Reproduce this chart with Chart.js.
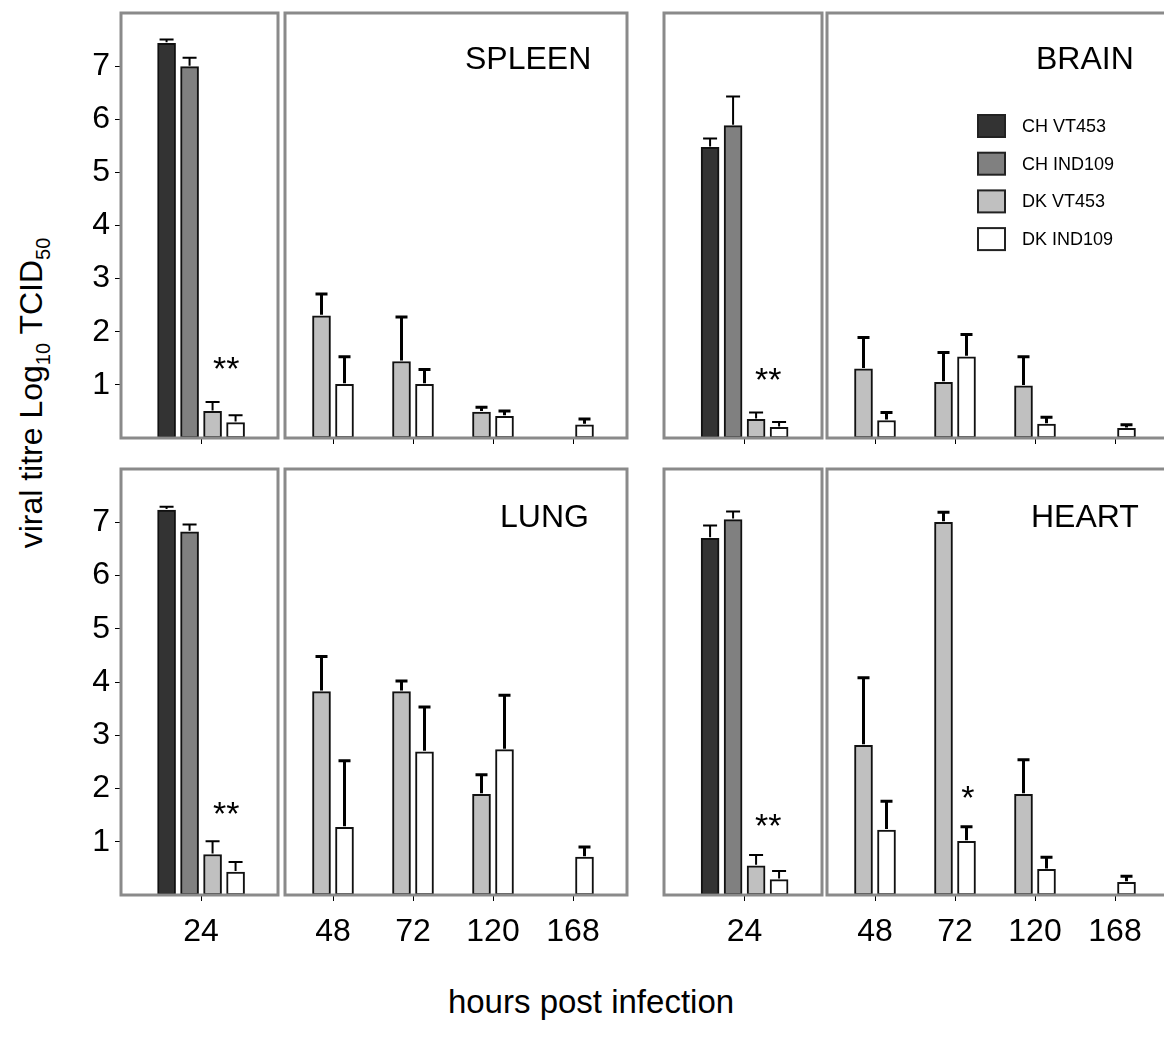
<!DOCTYPE html>
<html>
<head>
<meta charset="utf-8">
<script src="https://cdn.jsdelivr.net/npm/chart.js@4.4.0/dist/chart.umd.min.js"></script>
<style>
html,body{margin:0;padding:0;background:#fff;overflow:hidden;width:1164px;height:1044px;}
body{position:relative;font-family:"Liberation Sans",Arial,sans-serif;color:#000;}
canvas{position:absolute;}
#ytitle{position:absolute;left:33px;top:393px;transform:translate(-50%,-50%) rotate(-90deg);font-size:32px;line-height:32px;white-space:nowrap;}
#ytitle .sub{font-size:20px;position:relative;top:8px;}
#xtitle{position:absolute;left:591px;top:985px;transform:translateX(-50%);font-size:33px;line-height:33px;white-space:nowrap;}
</style>
</head>
<body>
<div id="ytitle">viral titre Log<span class="sub">10</span> TCID<span class="sub">50</span></div>
<div id="xtitle">hours post infection</div>
<script>
// ---------- data ----------
const seriesNames = ['CH VT453', 'CH IND109', 'DK VT453', 'DK IND109'];
const seriesColors = ['#333333', '#808080', '#c0c0c0', '#ffffff'];
const earlyHours = ['24'];
const lateHours = ['48', '72', '120', '168'];
const yTickValues = [1, 2, 3, 4, 5, 6, 7];
const panelTitles = ['SPLEEN', 'BRAIN', 'LUNG', 'HEART'];

// 24 h: [CH VT453, CH IND109, DK VT453, DK IND109]
const spleenEarly = [7.43, 6.99, 0.50, 0.29];
const spleenEarlyErr = [0.07, 0.17, 0.18, 0.14];
const brainEarly = [5.47, 5.88, 0.35, 0.20];
const brainEarlyErr = [0.17, 0.55, 0.13, 0.10];
const lungEarly = [7.23, 6.82, 0.76, 0.43];
const lungEarlyErr = [0.06, 0.14, 0.25, 0.19];
const heartEarly = [6.70, 7.05, 0.55, 0.29];
const heartEarlyErr = [0.24, 0.15, 0.20, 0.16];

// 48-168 h: DK VT453 and DK IND109
const spleenLateVT = [2.30, 1.44, 0.49, null];
const spleenLateVTErr = [0.41, 0.84, 0.09, null];
const spleenLateIND = [1.01, 1.01, 0.41, 0.25];
const spleenLateINDErr = [0.52, 0.28, 0.10, 0.11];

const brainLateVT = [1.30, 1.05, 0.98, null];
const brainLateVTErr = [0.59, 0.56, 0.55, null];
const brainLateIND = [0.33, 1.53, 0.26, 0.18];
const brainLateINDErr = [0.15, 0.42, 0.13, 0.07];

const lungLateVT = [3.82, 3.82, 1.89, null];
const lungLateVTErr = [0.66, 0.20, 0.37, null];
const lungLateIND = [1.27, 2.69, 2.73, 0.71];
const lungLateINDErr = [1.25, 0.84, 1.02, 0.19];

const heartLateVT = [2.81, 7.00, 1.89, null];
const heartLateVTErr = [1.27, 0.19, 0.65, null];
const heartLateIND = [1.22, 1.01, 0.48, 0.24];
const heartLateINDErr = [0.54, 0.27, 0.23, 0.11];

// significance marks (data units: x index, y value)
const spleenMarks = [{x: 0.32, y: 1.47, text: '**'}];
const brainMarks = [{x: 0.30, y: 1.25, text: '**'}];
const lungMarks = [{x: 0.32, y: 1.68, text: '**'}];
const heartMarks = [{x: 0.30, y: 1.46, text: '**'}];
const heartLateMarks = [{x: 1.16, y: 1.98, text: '*'}];

// ---------- rendering ----------
const FONT = "'Liberation Sans', Arial, sans-serif";
Chart.defaults.font.family = FONT;
Chart.defaults.color = '#000';

const framePlugin = {
  id: 'frame',
  afterDatasetsDraw(chart) {
    const a = chart.chartArea, ctx = chart.ctx;
    ctx.save();
    ctx.strokeStyle = '#8a8a8a';
    ctx.lineWidth = 3;
    ctx.strokeRect(a.left, a.top, a.right - a.left, a.bottom - a.top);
    ctx.restore();
  }
};

const errorBarPlugin = {
  id: 'errorBars',
  afterDatasetsDraw(chart, args, opts) {
    const ctx = chart.ctx, ys = chart.scales.y;
    chart.data.datasets.forEach((ds, di) => {
      const meta = chart.getDatasetMeta(di);
      meta.data.forEach((bar, j) => {
        const v = ds.data[j].y, e = ds.errors[j];
        if (v == null || e == null) return;
        const x = bar.x, y0 = ys.getPixelForValue(v), y1 = ys.getPixelForValue(v + e);
        ctx.save();
        ctx.strokeStyle = '#000';
        ctx.lineWidth = opts.lineWidth;
        ctx.beginPath();
        ctx.moveTo(x, y0 - 1); ctx.lineTo(x, y1);
        ctx.moveTo(x - opts.cap / 2, y1); ctx.lineTo(x + opts.cap / 2, y1);
        ctx.stroke();
        ctx.restore();
      });
    });
  }
};

const textPlugin = {
  id: 'panelText',
  afterDraw(chart, args, opts) {
    const ctx = chart.ctx, a = chart.chartArea, xs = chart.scales.x, ys = chart.scales.y;
    ctx.save();
    ctx.fillStyle = '#000';
    if (opts.title) {
      ctx.font = '32px ' + FONT;
      ctx.textAlign = 'left';
      ctx.textBaseline = 'alphabetic';
      ctx.fillText(opts.title, a.left + opts.titleDx, a.top + opts.titleDy);
    }
    (opts.marks || []).forEach(m => {
      ctx.font = '34px ' + FONT;
      ctx.textAlign = 'center';
      ctx.textBaseline = 'alphabetic';
      ctx.fillText(m.text, xs.getPixelForValue(m.x), ys.getPixelForValue(m.y) + 0.58 * 34);
    });
    if (opts.legend) {
      ctx.font = '18px ' + FONT;
      ctx.textAlign = 'left';
      ctx.textBaseline = 'middle';
      seriesNames.forEach((name, i) => {
        const sx = a.left + 151, sy = a.top + 102 + i * 37.7;
        ctx.fillStyle = seriesColors[i];
        ctx.fillRect(sx, sy, 27, 22);
        ctx.strokeStyle = '#222';
        ctx.lineWidth = 2;
        ctx.strokeRect(sx, sy, 27, 22);
        ctx.fillStyle = '#000';
        ctx.fillText(name, a.left + 195, sy + 12);
      });
    }
    ctx.restore();
  }
};

function makeChart(area, cfg) {
  const leftSpace = cfg.yLabels ? 60 : 6;
  const W = area.width + leftSpace + 6, H = area.height + 6 + 60;
  const c = document.createElement('canvas');
  c.width = W; c.height = H;
  c.style.width = W + 'px'; c.style.height = H + 'px';
  c.style.left = (area.left - leftSpace) + 'px';
  c.style.top = (area.top - 6) + 'px';
  document.body.appendChild(c);
  const labels = cfg.labels;
  const datasets = cfg.series.map(s => ({
    label: s.name,
    data: labels.map((h, j) => ({x: j, y: s.values[j]})),
    errors: s.errors,
    backgroundColor: s.color,
    borderColor: '#111',
    borderWidth: 2,
    borderSkipped: false,
    barThickness: 23,
    maxBarThickness: 18
  }));
  new Chart(c, {
    type: 'bar',
    data: {datasets},
    options: {
      responsive: false,
      animation: false,
      layout: {padding: {left: cfg.yLabels ? 0 : 6, top: 6, right: 6, bottom: 0}},
      scales: {
        x: {
          type: 'linear',
          min: cfg.xMin, max: cfg.xMax,
          offset: false,
          afterBuildTicks: s => { s.ticks = labels.map((l, i) => ({value: i})); },
          afterFit: s => { s.height = 60; s.paddingLeft = 0; s.paddingRight = 0; },
          ticks: {
            stepSize: 1, includeBounds: false, autoSkip: false, maxRotation: 0,
            padding: 12, font: {size: 32}, color: '#000',
            callback: v => cfg.xLabels ? labels[v] : ''
          },
          grid: {offset: false, drawOnChartArea: false, drawTicks: true, tickLength: 6, color: '#000', lineWidth: 1},
          border: {display: false}
        },
        y: {
          min: 0, max: 8,
          display: cfg.yLabels,
          afterBuildTicks: s => { s.ticks = yTickValues.map(v => ({value: v})); },
          afterFit: s => {
            if (cfg.yLabels) { s.width = 60; }
            s.paddingTop = 0; s.paddingBottom = 0;
          },
          ticks: {stepSize: 1, padding: 5, font: {size: 32}, color: '#000'},
          grid: {offset: false, drawOnChartArea: false, drawTicks: true, tickLength: 6, color: '#000', lineWidth: 1},
          border: {display: false}
        }
      },
      plugins: {
        legend: {display: false},
        tooltip: {enabled: false},
        errorBars: {lineWidth: cfg.early ? 2 : 3, cap: cfg.early ? 14 : 12},
        panelText: {title: cfg.title, titleDx: cfg.titleDx, titleDy: cfg.titleDy, marks: cfg.marks, legend: cfg.legend}
      }
    },
    plugins: [framePlugin, errorBarPlugin, textPlugin]
  });
}

function earlySeries(vals, errs) {
  return seriesNames.map((n, i) => ({name: n, color: seriesColors[i], values: [vals[i]], errors: [errs[i]]}));
}
function lateSeries(vt, vtErr, ind, indErr) {
  return [
    {name: seriesNames[2], color: seriesColors[2], values: vt, errors: vtErr},
    {name: seriesNames[3], color: seriesColors[3], values: ind, errors: indErr}
  ];
}

const earlyRange = {xMin: -1.02, xMax: 0.98};
const lateRange = {xMin: -0.6, xMax: 3.675};

// top row
makeChart({left: 121, top: 13, width: 157, height: 425},
  {...earlyRange, early: true, yLabels: true, xLabels: false, labels: earlyHours,
   series: earlySeries(spleenEarly, spleenEarlyErr), marks: spleenMarks});
makeChart({left: 285, top: 13, width: 342, height: 425},
  {...lateRange, yLabels: false, xLabels: false, labels: lateHours,
   series: lateSeries(spleenLateVT, spleenLateVTErr, spleenLateIND, spleenLateINDErr),
   title: panelTitles[0], titleDx: 180, titleDy: 56});
makeChart({left: 664, top: 13, width: 158, height: 425},
  {...earlyRange, early: true, yLabels: false, xLabels: false, labels: earlyHours,
   series: earlySeries(brainEarly, brainEarlyErr), marks: brainMarks});
makeChart({left: 827, top: 13, width: 342, height: 425},
  {...lateRange, yLabels: false, xLabels: false, labels: lateHours,
   series: lateSeries(brainLateVT, brainLateVTErr, brainLateIND, brainLateINDErr),
   title: panelTitles[1], titleDx: 209, titleDy: 56, legend: true});
// bottom row
makeChart({left: 121, top: 469, width: 157, height: 426},
  {...earlyRange, early: true, yLabels: true, xLabels: true, labels: earlyHours,
   series: earlySeries(lungEarly, lungEarlyErr), marks: lungMarks});
makeChart({left: 285, top: 469, width: 342, height: 426},
  {...lateRange, yLabels: false, xLabels: true, labels: lateHours,
   series: lateSeries(lungLateVT, lungLateVTErr, lungLateIND, lungLateINDErr),
   title: panelTitles[2], titleDx: 215, titleDy: 58});
makeChart({left: 664, top: 469, width: 158, height: 426},
  {...earlyRange, early: true, yLabels: false, xLabels: true, labels: earlyHours,
   series: earlySeries(heartEarly, heartEarlyErr), marks: heartMarks});
makeChart({left: 827, top: 469, width: 342, height: 426},
  {...lateRange, yLabels: false, xLabels: true, labels: lateHours,
   series: lateSeries(heartLateVT, heartLateVTErr, heartLateIND, heartLateINDErr),
   title: panelTitles[3], titleDx: 204, titleDy: 58, marks: heartLateMarks});
</script>
</body>
</html>
